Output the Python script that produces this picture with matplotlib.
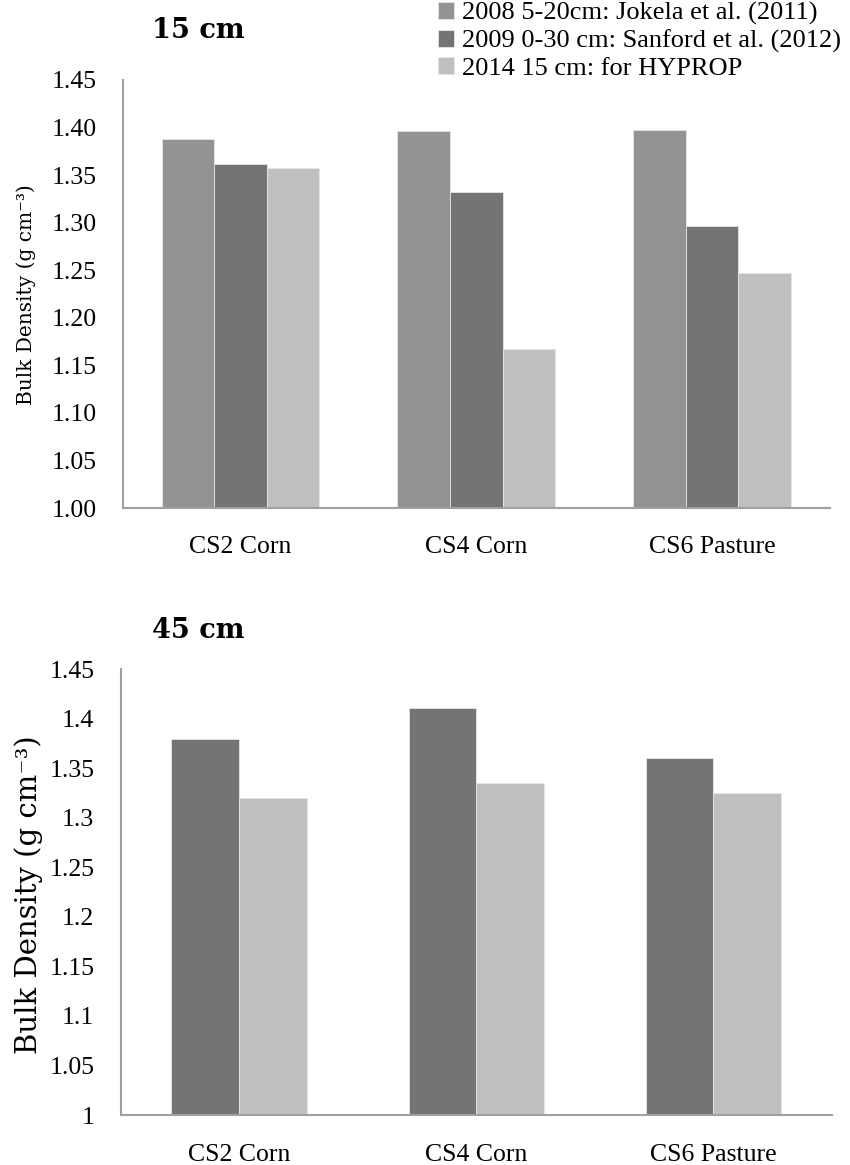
import numpy as np
import matplotlib
matplotlib.use("Agg")
import matplotlib.pyplot as plt

# data
sites = ["CS2 Corn", "CS4 Corn", "CS6 Pasture"]
series_15 = ["2008 5-20cm: Jokela et al. (2011)",
             "2009 0-30 cm: Sanford et al. (2012)",
             "2014 15 cm: for HYPROP"]
bd_2008_15 = [1.388, 1.396, 1.397]
bd_2009_15 = [1.362, 1.332, 1.297]
bd_2014_15 = [1.357, 1.167, 1.247]
bd_2009_45 = [1.380, 1.411, 1.360]
bd_2014_45 = [1.320, 1.335, 1.325]
ticks_15 = [1.00, 1.05, 1.10, 1.15, 1.20, 1.25, 1.30, 1.35, 1.40, 1.45]
ticks_45 = [1, 1.05, 1.1, 1.15, 1.2, 1.25, 1.3, 1.35, 1.4, 1.45]

COLORS = ["#939393", "#747474", "#bfbfbf"]
SPINE = "#a0a0a0"
SERIF = ["Liberation Serif", "DejaVu Serif"]
WIDE = ["DejaVu Serif"]
YLABEL = "Bulk Density (g cm\u207b\u00b3)"

W, H = 850, 1165
fig = plt.figure(figsize=(W / 100, H / 100), dpi=100)

def box(l, t, r, b):
    return [l / W, 1 - b / H, (r - l) / W, (b - t) / H]

def style(ax, ticks, labels, xpad):
    ax.set_xlim(-0.5, 2.5)
    ax.set_ylim(ticks[0], ticks[-1])
    ax.set_yticks(ticks)
    ax.set_yticklabels(labels, fontfamily=SERIF, fontsize=18.5)
    ax.set_xticks(range(len(sites)))
    ax.set_xticklabels(sites, fontfamily=SERIF, fontsize=18.5)
    ax.tick_params(axis="both", length=0)
    ax.tick_params(axis="y", pad=19)
    ax.tick_params(axis="x", pad=xpad)
    for s in ("top", "right"):
        ax.spines[s].set_visible(False)
    for s in ("left", "bottom"):
        ax.spines[s].set_color(SPINE)
        ax.spines[s].set_linewidth(1.5)

x = np.arange(len(sites))

# top panel: 15 cm
ax1 = fig.add_axes(box(122.7, 80, 830, 508))
w1 = 0.223
handles = []
for i, vals in enumerate([bd_2008_15, bd_2009_15, bd_2014_15]):
    b = ax1.bar(x + (i - 1) * w1, np.array(vals) - 1.0, w1, bottom=1.0,
                color=COLORS[i], edgecolor="#e6e6e6", linewidth=0.6)
    handles.append(b)
style(ax1, ticks_15, ["%.2f" % t for t in ticks_15], 20)
fig.text(198 / W, 1 - 31 / H, "15 cm", fontfamily=WIDE, fontsize=19.5,
         fontweight="bold", ha="center", va="center")
fig.text(26 / W, 1 - 295 / H, YLABEL, fontfamily=WIDE,
         fontsize=14.5, rotation=90, ha="center", va="center")
fig.legend(handles, series_15, loc="upper left",
           bbox_to_anchor=(438 / W, 1 - 2 / H),
           frameon=False, prop={"family": SERIF, "size": 19},
           handlelength=0.6, handleheight=0.6, handletextpad=0.3,
           labelspacing=0.17, borderpad=0, borderaxespad=0)

# bottom panel: 45 cm
ax2 = fig.add_axes(box(120.7, 669.3, 832, 1115))
w2 = 0.286
for i, vals in enumerate([bd_2009_45, bd_2014_45]):
    ax2.bar(x + (i - 0.5) * w2, np.array(vals) - 1.0, w2, bottom=1.0,
            color=COLORS[i + 1], edgecolor="#e6e6e6", linewidth=0.6)
style(ax2, ticks_45, ["%g" % t for t in ticks_45], 21)
fig.text(198 / W, 1 - 631 / H, "45 cm", fontfamily=WIDE, fontsize=19.5,
         fontweight="bold", ha="center", va="center")
fig.text(29 / W, 1 - 895 / H, YLABEL, fontfamily=WIDE,
         fontsize=21, rotation=90, ha="center", va="center")

fig.savefig("out.png", dpi=100)
